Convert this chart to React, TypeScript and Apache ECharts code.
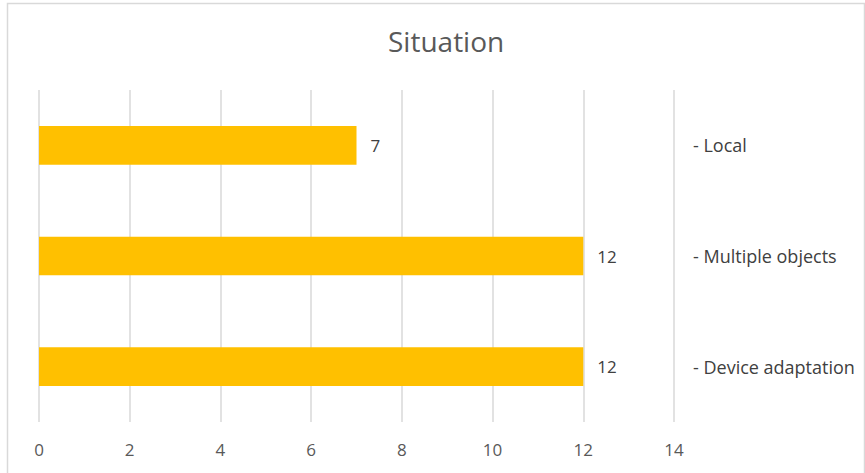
import React, { useEffect, useRef } from "react";
import * as echarts from "echarts";

const categories = ["- Local", "- Multiple objects", "- Device adaptation"];
const values = [7, 12, 12];
const xTicks = [0, 2, 4, 6, 8, 10, 12, 14];

const FONT = "'Open Sans', 'Noto Sans', sans-serif";

export default function App() {
  const ref = useRef<HTMLDivElement>(null);
  useEffect(() => {
    document.body.style.margin = "0";
    const chart = echarts.init(ref.current!, null, { renderer: "svg" });
    chart.setOption({
      animation: false,
      backgroundColor: "#ffffff",
      title: {
        text: "Situation",
        left: 383,
        top: 22,
        textStyle: { fontFamily: FONT, fontSize: 28, fontWeight: "normal", color: "#595959" },
      },
      graphic: [
        {
          type: "rect",
          shape: { x: 7.5, y: 3.5, width: 857, height: 480 },
          style: { fill: "none", stroke: "#d9d9d9", lineWidth: 1.5 },
          silent: true,
        },
      ],
      grid: { left: 39, right: 191, top: 90, bottom: 51, containLabel: false },
      xAxis: {
        type: "value",
        min: xTicks[0],
        max: xTicks[xTicks.length - 1],
        interval: 2,
        axisLine: { show: false },
        axisTick: { show: false },
        splitLine: { show: true, lineStyle: { color: "#d9d9d9", width: 1.5 } },
        axisLabel: { fontFamily: FONT, fontSize: 17, color: "#595959", margin: 19 },
      },
      yAxis: {
        type: "category",
        data: categories,
        inverse: true,
        position: "right",
        axisLine: { show: false },
        axisTick: { show: false },
        splitLine: { show: false },
        axisLabel: { fontFamily: FONT, fontSize: 18, color: "#404040", margin: 19, align: "left" },
      },
      series: [
        {
          type: "bar",
          data: values,
          barWidth: "35%",
          itemStyle: { color: "#FFC000" },
          label: {
            show: true,
            position: "right",
            distance: 14,
            fontFamily: FONT,
            fontSize: 17,
            color: "#404040",
          },
        },
      ],
    });
    return () => chart.dispose();
  }, []);
  return <div ref={ref} style={{ width: 865, height: 473 }} />;
}
